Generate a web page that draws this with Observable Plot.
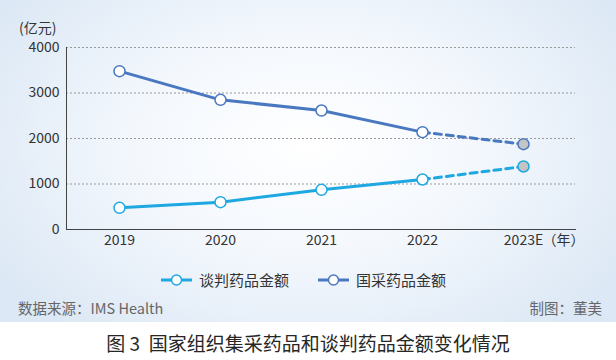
<!DOCTYPE html>
<html><head><meta charset="utf-8">
<script src="https://cdn.jsdelivr.net/npm/d3@7"></script>
<script src="https://cdn.jsdelivr.net/npm/@observablehq/plot@0.6"></script>
<style>
html,body{margin:0;padding:0;background:#fff;}
body{width:616px;height:360px;position:relative;overflow:hidden;font-family:"Noto Sans CJK SC","Noto Sans",sans-serif;}
#panel{position:absolute;left:0;top:0;width:616px;height:322px;background:radial-gradient(ellipse 60% 75% at 50% 45%,#ffffff 0%,#f4f8fd 45%,#dce8f5 100%);}
#chart{position:absolute;left:0;top:0;}
#unit{position:absolute;left:19px;top:17px;font-size:14px;color:#333;}
#legend{position:absolute;top:269px;left:0;width:616px;font-size:15px;color:#333;}
.li{position:absolute;display:flex;align-items:center;}
#src{position:absolute;left:18px;top:297px;font-size:14.5px;color:#666;}
#by{position:absolute;right:14px;top:297px;font-size:14.5px;color:#666;}
#title{position:absolute;left:0;width:616px;top:329px;text-align:center;font-size:19px;color:#262626;}
</style></head>
<body>
<div id="panel"></div>
<div id="chart"></div>
<div id="unit">(亿元)</div>
<div id="legend"></div>
<div id="src">数据来源：IMS Health</div>
<div id="by">制图：董美</div>
<div id="title">图 3&nbsp;&nbsp;国家组织集采药品和谈判药品金额变化情况</div>
<script>
const years = ["2019","2020","2021","2022","2023E"];
const negoValues = [477, 600, 872, 1099, 1385];
const vbpValues = [3480, 2850, 2615, 2140, 1875];
const seriesNames = ["谈判药品金额","国采药品金额"];
const yTicks = [0,1000,2000,3000,4000];
const colors = {"谈判药品金额":"#1ea8e2","国采药品金额":"#4a78c0"};

const rows = [];
seriesNames.forEach((s,si)=>{
  const vals = si===0?negoValues:vbpValues;
  years.forEach((y,i)=>rows.push({series:s, year:y, value:vals[i], est: y.endsWith("E")}));
});
const solid = rows.filter(d=>!d.est);
const dashed = rows.filter((d)=>{const i=years.indexOf(d.year);return i>=years.length-2;});

const plot = Plot.plot({
  width:616, height:255,
  marginLeft:66, marginRight:41, marginTop:47, marginBottom:26,
  style:{background:"transparent", fontFamily:"'Noto Sans CJK SC','Noto Sans',sans-serif", fontSize:"14px", color:"#333"},
  x:{type:"point", domain:years, padding:0.5, label:null},
  y:{domain:[0,4000], label:null},
  marks:[
    Plot.gridY(yTicks.filter(t=>t>0),{stroke:"#9a9a9a", strokeOpacity:1, strokeDasharray:"2,2"}),
    Plot.frame({anchor:"left", stroke:"#444"}),
    Plot.frame({anchor:"bottom", stroke:"#444"}),
    Plot.axisY({ticks:yTicks, tickSize:0, tickPadding:7, tickFormat:d3.format("d"), label:null, fontSize:14}),
    Plot.axisX({tickSize:0, tickPadding:6, label:null, fontSize:14}),
    Plot.line(solid,{x:"year", y:"value", z:"series", stroke:d=>colors[d.series], strokeWidth:3}),
    Plot.line(dashed,{x:"year", y:"value", z:"series", stroke:d=>colors[d.series], strokeWidth:3, strokeDasharray:"7,5"}),
    Plot.dot(rows,{x:"year", y:"value", r:5.5, fill:d=>d.est?"#c4c4c4":"#fff", stroke:d=>colors[d.series], strokeWidth:1.5}),
    Plot.text(["（年）"],{x:()=> "2023E", y:()=>0, dy:6, dx:19, lineAnchor:"top", textAnchor:"start", fontSize:14, fill:"#333"})
  ]
});
document.getElementById("chart").appendChild(plot);

const leg = document.getElementById("legend");
const legPos = [160, 317];
seriesNames.forEach((s,i)=>{
  const el = document.createElement("div");
  el.className="li"; el.style.left=legPos[i]+"px";
  el.innerHTML = `<svg width="33" height="16"><line x1="1" y1="8" x2="32" y2="8" stroke="${colors[s]}" stroke-width="3"/><circle cx="16.5" cy="8" r="5" fill="#fff" stroke="${colors[s]}" stroke-width="1.5"/></svg><span style="margin-left:6px">${s}</span>`;
  leg.appendChild(el);
});
</script>
</body></html>
